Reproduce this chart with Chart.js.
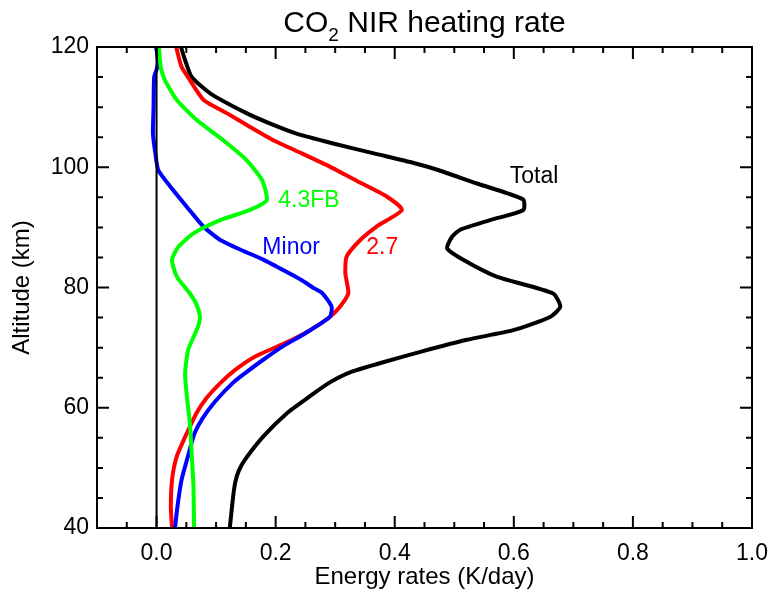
<!DOCTYPE html>
<html>
<head>
<meta charset="utf-8">
<title>CO2 NIR heating rate</title>
<script src="https://cdn.jsdelivr.net/npm/chart.js@4.4.0/dist/chart.umd.min.js"></script>
<style>
  html, body { margin: 0; padding: 0; background: #fff; }
</style>
</head>
<body>
<canvas id="grafico" width="769" height="592"></canvas>
<script>
// Datos: altitud (km) y tasa de calentamiento (K/day)
const altTotal  = [120, 117.8, 115, 112.3, 109, 107.3, 105.6, 104, 102.3, 100.7, 99.5, 97.3, 95.7, 94.6, 92.9, 91.2, 89.6, 88.4, 86.5, 84.6, 81.8, 79, 76.8, 75.1, 72.9, 71.3, 69.3, 67.7, 66.0, 64.1, 61.8, 59.1, 55.2, 51.3, 49.5, 47.5, 44.7, 40];
const rateTotal = [0.041, 0.048, 0.059, 0.090, 0.151, 0.190, 0.235, 0.295, 0.365, 0.432, 0.474, 0.538, 0.588, 0.616, 0.616, 0.560, 0.510, 0.496, 0.488, 0.515, 0.571, 0.666, 0.678, 0.661, 0.599, 0.521, 0.443, 0.385, 0.328, 0.289, 0.256, 0.219, 0.179, 0.148, 0.138, 0.132, 0.128, 0.123];

const alt27  = [120, 116.7, 114.5, 111.2, 109, 106.7, 104.5, 102.3, 100.1, 97.6, 95.1, 92.9, 90.1, 87.9, 85.1, 82.4, 81.2, 79, 76.8, 75.1, 72.9, 70.7, 68.5, 66.3, 64.1, 61.5, 59.1, 55.8, 51.9, 48, 43.5, 40];
const rate27 = [0.033, 0.042, 0.056, 0.079, 0.118, 0.157, 0.196, 0.244, 0.291, 0.339, 0.387, 0.412, 0.369, 0.342, 0.319, 0.317, 0.319, 0.322, 0.308, 0.291, 0.258, 0.215, 0.165, 0.132, 0.107, 0.083, 0.067, 0.051, 0.034, 0.026, 0.024, 0.026];

const altMinor  = [120, 117.8, 116.2, 115, 110, 105.6, 102.3, 99.5, 96.8, 93.4, 90.1, 87.9, 86.2, 84.6, 82.4, 81.2, 79.9, 79, 76.8, 75.1, 72.4, 70.2, 67.9, 66.0, 64.3, 61.0, 58.2, 55.8, 53.5, 51.3, 48, 43.5, 40];
const rateMinor = [-0.001, 0.003, 0.000, -0.004, -0.005, -0.006, -0.002, 0.003, 0.023, 0.051, 0.079, 0.107, 0.143, 0.180, 0.222, 0.244, 0.264, 0.279, 0.294, 0.291, 0.250, 0.212, 0.178, 0.152, 0.130, 0.098, 0.077, 0.064, 0.057, 0.051, 0.042, 0.035, 0.031];

const alt43FB  = [120, 116.7, 114.5, 111.2, 107.9, 104.5, 101.2, 97.9, 94.5, 92.9, 91.2, 89, 86.8, 84.6, 81.8, 79, 77.2, 75.1, 73.6, 72.4, 69.6, 65.7, 61.8, 57.4, 52.4, 46.9, 40];
const rate43FB = [0.004, 0.007, 0.014, 0.034, 0.067, 0.112, 0.151, 0.177, 0.185, 0.157, 0.107, 0.062, 0.037, 0.026, 0.034, 0.056, 0.067, 0.073, 0.070, 0.065, 0.053, 0.048, 0.051, 0.056, 0.059, 0.062, 0.063];

// Linea de cero
const altCero  = [40, 120];
const rateCero = [0, 0];

// Etiquetas de los ejes
const xTicks = [0.0, 0.2, 0.4, 0.6, 0.8, 1.0];
const yTicks = [40, 60, 80, 100, 120];

// Etiquetas de cada curva (en coordenadas de datos)
const etiquetas = [
    { texto: 'Total', x: 0.634, y: 98.5, color: '#000000' },
    { texto: '4.3FB', x: 0.256, y: 94.4, color: '#00ff00' },
    { texto: 'Minor', x: 0.226, y: 86.6, color: '#0000ff' },
    { texto: '2.7',   x: 0.379, y: 86.6, color: '#ff0000' }
];

function puntos(alts, rates) {
    return alts.map((a, i) => ({ x: rates[i], y: a }));
}

const fuente = '"Liberation Sans", Arial, Helvetica, sans-serif';
Chart.defaults.font.family = fuente;
Chart.defaults.color = '#000';

// Plugin para el marco, las marcas hacia dentro, etiquetas y titulo
const marcoPlugin = {
    id: 'marco',
    afterDatasetsDraw(chart) {
        const { ctx, chartArea: a, scales } = chart;
        const sx = scales.x, sy = scales.y;
        ctx.save();
        ctx.strokeStyle = '#000';
        ctx.lineWidth = 2;
        ctx.strokeRect(a.left, a.top, a.right - a.left, a.bottom - a.top);

        ctx.beginPath();
        for (let i = -1; i < 20; i++) {
            const px = sx.getPixelForValue(i * 0.05);
            const len = (i % 4 === 0) ? 12 : 6;
            ctx.moveTo(px, a.bottom); ctx.lineTo(px, a.bottom - len);
            ctx.moveTo(px, a.top); ctx.lineTo(px, a.top + len);
        }
        for (let alt = 45; alt < 120; alt += 5) {
            const py = sy.getPixelForValue(alt);
            const len = (alt % 20 === 0) ? 12 : 6;
            ctx.moveTo(a.left, py); ctx.lineTo(a.left + len, py);
            ctx.moveTo(a.right, py); ctx.lineTo(a.right - len, py);
        }
        ctx.stroke();

        ctx.font = '23px ' + fuente;
        ctx.textAlign = 'center';
        ctx.textBaseline = 'middle';
        for (const e of etiquetas) {
            ctx.fillStyle = e.color;
            ctx.fillText(e.texto, sx.getPixelForValue(e.x), sy.getPixelForValue(e.y));
        }
        ctx.restore();
    },
    afterDraw(chart) {
        const { ctx, chartArea: a } = chart;
        ctx.save();
        ctx.fillStyle = '#000';
        ctx.textBaseline = 'alphabetic';
        ctx.textAlign = 'left';
        const fGrande = '30px ' + fuente;
        const fPeque = '19px ' + fuente;
        ctx.font = fGrande;
        const w1 = ctx.measureText('CO').width;
        const w3 = ctx.measureText(' NIR heating rate').width;
        ctx.font = fPeque;
        const w2 = ctx.measureText('2').width;
        const x = (a.left + a.right) / 2 - (w1 + w2 + w3) / 2;
        const base = 32;
        ctx.font = fGrande;
        ctx.fillText('CO', x, base);
        ctx.font = fPeque;
        ctx.fillText('2', x + w1, base + 9);
        ctx.font = fGrande;
        ctx.fillText(' NIR heating rate', x + w1 + w2, base);
        ctx.restore();
    }
};

const ctx = document.getElementById('grafico').getContext('2d');

new Chart(ctx, {
    type: 'line',
    data: {
        datasets: [
            { label: 'Cero', data: puntos(altCero, rateCero), borderColor: '#000000', borderWidth: 2, tension: 0 },
            { label: '4.3FB', data: puntos(alt43FB, rate43FB), borderColor: '#00ff00' },
            { label: 'Minor', data: puntos(altMinor, rateMinor), borderColor: '#0000ff' },
            { label: '2.7', data: puntos(alt27, rate27), borderColor: '#ff0000' },
            { label: 'Total', data: puntos(altTotal, rateTotal), borderColor: '#000000' }
        ]
    },
    options: {
        responsive: false,
        animation: false,
        layout: { padding: { top: 47, right: 17, left: 0, bottom: 0 } },
        plugins: {
            legend: { display: false },
            tooltip: { enabled: false },
            title: { display: false }
        },
        elements: {
            point: { radius: 0 },
            line: { borderWidth: 4, tension: 0.2, fill: false }
        },
        scales: {
            x: {
                type: 'linear',
                min: -0.1,
                max: 1.0,
                grid: { display: false, drawTicks: false },
                border: { display: false },
                afterBuildTicks: s => { s.ticks = xTicks.map(v => ({ value: v })); },
                afterFit: s => { s.height = 64; s.paddingLeft = 0; s.paddingRight = 0; },
                ticks: {
                    padding: 12,
                    font: { size: 23 },
                    maxRotation: 0,
                    autoSkip: false,
                    callback: v => Number(v).toFixed(1)
                },
                title: {
                    display: true,
                    text: 'Energy rates (K/day)',
                    font: { size: 24 },
                    padding: { top: 0, bottom: 0 }
                }
            },
            y: {
                type: 'linear',
                min: 40,
                max: 120,
                grid: { display: false, drawTicks: false },
                border: { display: false },
                afterBuildTicks: s => { s.ticks = yTicks.map(v => ({ value: v })); },
                afterFit: s => { s.width = 97; s.paddingTop = 0; s.paddingBottom = 0; },
                ticks: {
                    padding: 8,
                    font: { size: 23 },
                    autoSkip: false,
                    callback: v => String(v)
                },
                title: {
                    display: true,
                    text: 'Altitude (km)',
                    font: { size: 24 },
                    padding: { top: 8, bottom: 0 }
                }
            }
        }
    },
    plugins: [marcoPlugin]
});
</script>
</body>
</html>
